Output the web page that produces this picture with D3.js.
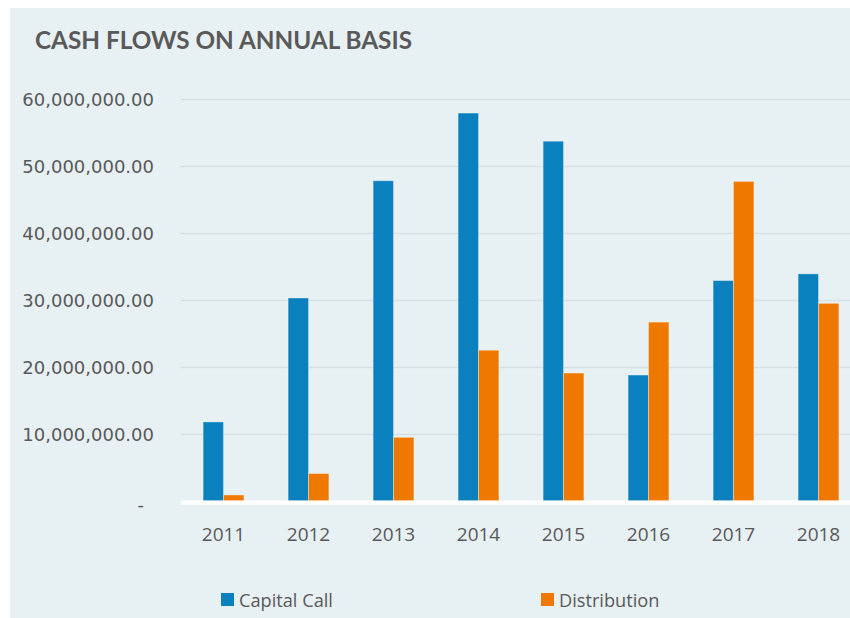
<!DOCTYPE html>
<html>
<head>
<meta charset="utf-8">
<script src="https://cdn.jsdelivr.net/npm/d3@7"></script>
<style>
  html, body { margin: 0; padding: 0; background: #ffffff; }
  svg { display: block; }
</style>
</head>
<body>
<svg id="chart" width="850" height="618"></svg>
<script>
// Annual cash flows by year
const years = ["2011", "2012", "2013", "2014", "2015", "2016", "2017", "2018"];
const capitalCall  = [11800000, 30300000, 47800000, 57900000, 53700000, 18800000, 32900000, 33900000];
const distribution = [900000, 4100000, 9500000, 22500000, 19100000, 26700000, 47700000, 29500000];
const seriesNames = ["Capital Call", "Distribution"];
const seriesColors = ["#0b80be", "#ef7900"];
const yTicks = [0, 10000000, 20000000, 30000000, 40000000, 50000000, 60000000];

const svg = d3.select("#chart");
const W = 850, H = 618;
const textColor = "#595959";

// chart background panel
svg.append("rect").attr("x", 10).attr("y", 8).attr("width", W - 10).attr("height", H - 8)
  .attr("fill", "#e7f0f3");

// title
svg.append("text").attr("x", 35).attr("y", 48.5)
  .attr("font-family", "Lato, 'Open Sans', sans-serif").attr("font-weight", "bold")
  .attr("font-size", 24.3).attr("fill", textColor)
  .text("CASH FLOWS ON ANNUAL BASIS");

const plot = { left: 181, right: 861, top: 99, bottom: 501 };

const x = d3.scaleBand().domain(years).range([plot.left, plot.right]).paddingInner(0.52).paddingOuter(0.26);
const x1 = d3.scaleBand().domain(seriesNames).range([0, x.bandwidth()]);
const y = d3.scaleLinear().domain([0, 60000000]).range([plot.bottom, plot.top]);

// gridlines
svg.append("g").selectAll("line").data(yTicks.filter(d => d > 0)).join("line")
  .attr("x1", plot.left).attr("x2", W)
  .attr("y1", d => Math.round(y(d)) + 0.5).attr("y2", d => Math.round(y(d)) + 0.5)
  .attr("stroke", "#d6e0e4").attr("stroke-width", 1.5);

// y axis labels
const fmt = d => d === 0 ? "-" : d3.format(",.2f")(d);
const yAxis = d3.axisLeft(y).tickValues(yTicks).tickFormat(fmt).tickSize(0).tickPadding(0);
const gy = svg.append("g").attr("transform", "translate(154,0)").call(yAxis);
gy.select(".domain").remove();
gy.selectAll("text")
  .attr("font-family", "'DejaVu Sans', sans-serif").attr("font-size", 18)
  .attr("fill", textColor).attr("text-anchor", "end").attr("dy", "0.35em");
gy.selectAll(".tick").filter(d => d === 0).select("text").attr("x", -10).attr("dy", "0.55em");

// bars
const data = years.map((yr, i) => ({ year: yr, values: [capitalCall[i], distribution[i]] }));
const groups = svg.append("g").selectAll("g").data(data).join("g")
  .attr("transform", d => `translate(${x(d.year)},0)`);
groups.selectAll("rect").data(d => d.values.map((v, j) => ({ v, j }))).join("rect")
  .attr("x", d => x1(seriesNames[d.j]))
  .attr("y", d => y(d.v))
  .attr("width", x1.bandwidth())
  .attr("height", d => y(0) - y(d.v))
  .attr("fill", d => seriesColors[d.j])
  .attr("stroke", "rgba(255,255,255,0.35)").attr("stroke-width", 1);

// baseline
svg.append("rect").attr("x", plot.left).attr("y", plot.bottom - 0.5).attr("width", W - plot.left).attr("height", 4.5)
  .attr("fill", "#ffffff");

// x axis labels
const xAxis = d3.axisBottom(x).tickSize(0).tickPadding(0);
const gx = svg.append("g").attr("transform", `translate(0,${plot.bottom})`).call(xAxis);
gx.select(".domain").remove();
gx.selectAll("text")
  .attr("font-family", "'Open Sans', sans-serif").attr("font-size", 19)
  .attr("fill", textColor).attr("y", 39.5).attr("dy", 0);

// legend
const legendX = [221, 541];
const legend = svg.append("g").selectAll("g").data(seriesNames).join("g")
  .attr("transform", (d, i) => `translate(${legendX[i]},593)`);
legend.append("rect").attr("width", 13).attr("height", 13).attr("fill", (d, i) => seriesColors[i]);
legend.append("text").attr("x", 18).attr("y", 14)
  .attr("font-family", "'Open Sans', sans-serif").attr("font-size", 18.2)
  .attr("fill", textColor).text(d => d);
</script>
</body>
</html>
